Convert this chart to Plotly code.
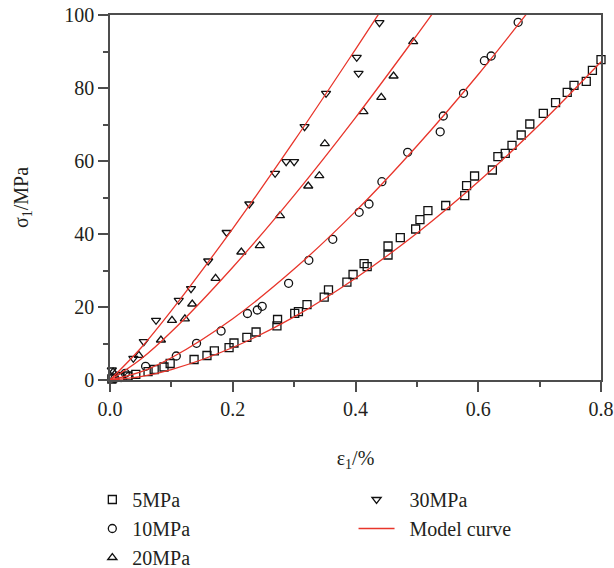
import plotly.graph_objects as go

# ---- data ----
x_5 = [0.003, 0.016, 0.029, 0.042, 0.062, 0.072, 0.088, 0.098, 0.137, 0.158, 0.170, 0.194, 0.202,
       0.223, 0.238, 0.272, 0.273, 0.301, 0.307, 0.321, 0.349, 0.356, 0.386, 0.396, 0.414, 0.419,
       0.453, 0.453, 0.473, 0.498, 0.505, 0.518, 0.547, 0.578, 0.581, 0.594, 0.623, 0.632, 0.644,
       0.655, 0.670, 0.684, 0.706, 0.726, 0.745, 0.756, 0.776, 0.786, 0.800]
y_5 = [0.27, 0.96, 1.1, 1.56, 2.27, 2.88, 3.56, 4.52, 5.62, 6.71, 8.0, 8.85, 10.14,
       11.7, 13.15, 14.85, 16.58, 18.27, 18.71, 20.63, 22.68, 24.71, 26.79, 28.9, 31.86, 31.04,
       34.25, 36.71, 38.99, 41.37, 43.92, 46.38, 47.81, 50.49, 53.23, 55.89, 57.53, 61.18, 62.11,
       64.3, 67.12, 70.14, 73.07, 75.97, 78.82, 80.74, 81.84, 84.85, 87.75]

x_10 = [0.008, 0.018, 0.025, 0.031, 0.058, 0.108, 0.141, 0.181, 0.224, 0.240, 0.248, 0.291,
        0.324, 0.363, 0.406, 0.422, 0.443, 0.485, 0.538, 0.543, 0.576, 0.610, 0.621, 0.665]
y_10 = [0.41, 0.68, 1.84, 0.90, 3.75, 6.58, 10.05, 13.42, 18.22, 19.18, 20.19, 26.49,
        32.79, 38.55, 45.95, 48.22, 54.33, 62.38, 68.0, 72.33, 78.55, 87.48, 88.77, 98.0]

x_20 = [0.005, 0.047, 0.083, 0.101, 0.122, 0.134, 0.172, 0.214, 0.244, 0.277, 0.323, 0.341,
        0.350, 0.413, 0.442, 0.462, 0.494]
y_20 = [2.19, 6.77, 10.96, 16.36, 16.77, 20.82, 27.86, 35.07, 36.79, 45.01, 53.15, 55.97,
        64.74, 73.51, 77.45, 83.29, 92.68]

x_30 = [0.003, 0.038, 0.055, 0.075, 0.112, 0.132, 0.160, 0.190, 0.227, 0.269, 0.287, 0.300,
        0.317, 0.352, 0.402, 0.405, 0.439]
y_30 = [2.74, 5.95, 10.49, 16.36, 21.84, 25.01, 32.6, 40.41, 48.22, 56.63, 59.81, 59.81,
        69.4, 78.55, 88.41, 84.03, 97.89]

# model curves
mx_5 = [0.0, 0.05, 0.1, 0.2, 0.3, 0.4, 0.5, 0.6, 0.7, 0.8]
my_5 = [0.0, 0.91, 2.84, 8.9, 17.3, 27.9, 40.2, 54.3, 70.0, 87.2]
mx_10 = [0.0, 0.05, 0.1, 0.2, 0.3, 0.4, 0.5, 0.6, 0.7]
my_10 = [0.0, 2.2, 6.1, 16.8, 30.4, 46.2, 64.1, 83.7, 104.9]
mx_20 = [0.0, 0.05, 0.1, 0.2, 0.3, 0.4, 0.5, 0.55]
my_20 = [0.0, 5.68, 13.2, 30.9, 50.6, 71.9, 94.5, 106.1]
mx_30 = [0.0, 0.05, 0.1, 0.2, 0.3, 0.4, 0.45]
my_30 = [0.0, 8.69, 19.0, 41.5, 65.5, 90.6, 103.4]

names = ["5MPa", "10MPa", "20MPa", "30MPa"]
curve_name = "Model curve"

FONT = "Liberation Serif"
TXT = "#231f20"
AX = "#4d4d4d"
RED = "#e8352b"
FS = 20

fig = go.Figure()

series = [(x_5, y_5, "square-open", names[0], "legend"),
          (x_10, y_10, "circle-open", names[1], "legend"),
          (x_20, y_20, "triangle-up-open", names[2], "legend"),
          (x_30, y_30, "triangle-down-open", names[3], "legend2")]
for i, (xs, ys, sym, nm, lg) in enumerate(series):
    fig.add_trace(go.Scatter(
        x=xs, y=ys, mode="markers", name="\u00a0\u00a0" + nm if lg == "legend2" else nm,
        marker=dict(symbol=sym, size=8, color="#111111", line=dict(width=1.3, color="#111111")),
        cliponaxis=False, legend=lg, legendgroup=nm, legendrank=i))

curves = [(mx_5, my_5), (mx_10, my_10), (mx_20, my_20), (mx_30, my_30)]
for j, (cx, cy) in enumerate(curves):
    fig.add_trace(go.Scatter(
        x=cx, y=cy, mode="lines", line=dict(color=RED, width=1.3, shape="spline"),
        name="\u00a0\u00a0" + curve_name, showlegend=(j == 0), legend="legend2",
        legendgroup="model", legendrank=10))

axis_common = dict(
    showline=True, linecolor=AX, linewidth=1.6, mirror=True,
    ticks="outside", ticklen=10, tickwidth=1.6, tickcolor=AX,
    showgrid=False, zeroline=False, automargin=False,
    tickfont=dict(family=FONT, size=FS, color=TXT),
)

fig.update_layout(
    width=614, height=568,
    margin=dict(l=110, r=13, t=15, b=188, autoexpand=False),
    paper_bgcolor="white", plot_bgcolor="white",
    font=dict(family=FONT, size=FS, color=TXT),
    xaxis=dict(range=[0, 0.8], dtick=0.2, tickformat=".1f",
               minor=dict(dtick=0.1, ticklen=5, tickwidth=1.6, tickcolor=AX, ticks="outside"),
               title=dict(text="ε<sub>1</sub>/%", font=dict(family=FONT, size=FS, color=TXT), standoff=32),
               **axis_common),
    yaxis=dict(range=[0, 100], dtick=20,
               minor=dict(dtick=10, ticklen=5, tickwidth=1.6, tickcolor=AX, ticks="outside"),
               title=dict(text="σ<sub>1</sub>/MPa", font=dict(family=FONT, size=FS, color=TXT), standoff=30),
               **axis_common),
    legend=dict(x=-0.036, y=-0.274, xanchor="left", yanchor="top", orientation="v",
                font=dict(family=FONT, size=FS, color=TXT), tracegroupgap=0,
                bgcolor="rgba(0,0,0,0)", itemwidth=30),
    legend2=dict(x=0.496, y=-0.274, xanchor="left", yanchor="top", orientation="v",
                 font=dict(family=FONT, size=FS, color=TXT), tracegroupgap=0,
                 bgcolor="rgba(0,0,0,0)", itemwidth=36),
)

fig.write_html("out.html")
